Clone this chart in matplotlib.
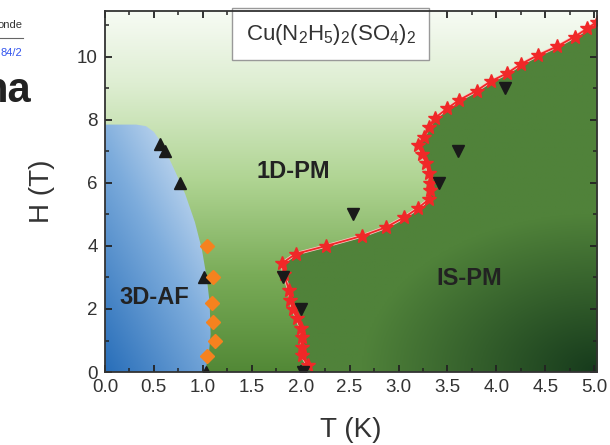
import numpy as np
import matplotlib.pyplot as plt
from matplotlib.patches import Polygon
from matplotlib.colors import to_rgb

plt.rcParams['font.family'] = ['Liberation Sans', 'DejaVu Sans']
plt.rcParams['mathtext.fontset'] = 'custom'
plt.rcParams['mathtext.rm'] = 'Liberation Sans'

# --- data ---
# boundary of the 3D-AF (blue) region
af_T = [0.0, 0.32, 0.42, 0.50, 0.56, 0.63, 0.72, 0.82, 0.92, 0.99, 1.04, 1.07, 1.08, 1.06, 1.02]
af_H = [7.85, 7.85, 7.80, 7.62, 7.35, 6.95, 6.35, 5.65, 4.75, 3.90, 3.00, 2.20, 1.20, 0.50, 0.0]

# up triangles
up_T = [0.56, 0.61, 0.77, 1.01, 1.03]
up_H = [7.25, 7.0, 6.0, 3.0, 0.0]

# down triangles
dn_T = [1.82, 2.00, 2.02, 2.53, 3.41, 3.61, 4.09]
dn_H = [3.0, 2.0, 0.0, 5.0, 6.0, 7.0, 9.0]

# orange diamonds
dia_T = [1.04, 1.10, 1.09, 1.10, 1.12, 1.04]
dia_H = [4.0, 3.0, 2.2, 1.6, 1.0, 0.5]

# red stars (IS-PM boundary)
st_T = [2.07, 2.01, 2.01, 2.01, 2.00, 1.96, 1.92, 1.89, 1.88, 1.83, 1.81, 1.95, 2.26,
        2.63, 2.87, 3.06, 3.20, 3.31, 3.32, 3.32, 3.31, 3.28, 3.24, 3.20, 3.26, 3.31,
        3.37, 3.50, 3.62, 3.80, 3.94, 4.11, 4.25, 4.43, 4.62, 4.80, 4.93, 5.03]
st_H = [0.22, 0.54, 0.80, 1.12, 1.39, 1.70, 2.00, 2.29, 2.60, 3.10, 3.45, 3.75, 4.00,
        4.32, 4.59, 4.91, 5.20, 5.48, 5.76, 6.00, 6.30, 6.63, 6.92, 7.20, 7.47, 7.77,
        8.05, 8.37, 8.63, 8.93, 9.22, 9.48, 9.77, 10.06, 10.33, 10.64, 10.90, 11.12]

xmax, ymax = 5.03, 11.45


def blend(stops, t):
    # piecewise linear colour ramp, t in [0, 1]
    pos = np.array([s[0] for s in stops])
    cols = np.array([s[1] for s in stops]) / 255.0
    out = np.zeros(t.shape + (3,))
    for c in range(3):
        out[..., c] = np.interp(t, pos, cols[:, c])
    return out


fig = plt.figure(figsize=(6.10, 4.45), dpi=100)
ax = fig.add_axes([0.172, 0.164, 0.807, 0.811])

n = 300
T, H = np.meshgrid(np.linspace(0, xmax, n), np.linspace(0, ymax, n))

# background (1D-PM) vertical gradient
bg = blend([(0.0, (82, 136, 54)), (0.27, (122, 172, 88)), (0.53, (175, 212, 146)),
            (0.8, (222, 238, 210)), (1.0, (247, 251, 244))], H / ymax)
ax.imshow(bg, extent=[0, xmax, 0, ymax], origin='lower', aspect='auto', zorder=0)

# 3D-AF blue region
g = np.clip(0.45 * T / 1.1 + 0.55 * H / 7.9, 0, 1)
blue = blend([(0.0, (40, 110, 185)), (0.5, (125, 172, 220)), (1.0, (235, 242, 251))], g)
im = ax.imshow(blue, extent=[0, xmax, 0, ymax], origin='lower', aspect='auto', zorder=1)
af_poly = Polygon(list(zip(af_T, af_H)) + [(0, 0)], closed=True, transform=ax.transData)
im.set_clip_path(af_poly)

# IS-PM dark green region
r = np.sqrt(((xmax - T) / 2.4) ** 2 + (H / 5.0) ** 2)
s = np.clip(1 - r, 0, 1)
base = np.array(to_rgb('#50823a'))
dark = np.array([22, 58, 28]) / 255.0
ispm = base * (1 - s[..., None]) + dark * s[..., None]
im2 = ax.imshow(ispm, extent=[0, xmax, 0, ymax], origin='lower', aspect='auto', zorder=1)
pts = [(2.07, 0.0)] + list(zip(st_T, st_H)) + [(xmax, 11.12), (xmax, 0)]
is_poly = Polygon(pts, closed=True, transform=ax.transData)
im2.set_clip_path(is_poly)

# markers
ax.plot(st_T, st_H, '-', color='#ffc4c4', lw=2.4, zorder=3)
ax.plot(st_T, st_H, '-*', color='#f02828', lw=1.3, ms=10, mec='#f02828', zorder=4)
ax.plot(up_T, up_H, '^', color='#1a1a1a', ms=9, ls='none', zorder=5)
ax.plot(dn_T, dn_H, 'v', color='#1a1a1a', ms=9, ls='none', zorder=5)
ax.plot(dia_T, dia_H, 'D', color='#f5821f', ms=7, ls='none', zorder=5)

# region labels
lab = dict(fontsize=17, fontweight='bold', color='#222222', ha='center', va='center', zorder=6)
ax.text(1.93, 6.35, '1D-PM', **lab)
ax.text(0.50, 2.35, '3D-AF', **lab)
ax.text(3.72, 2.98, 'IS-PM', **lab)

ax.text(2.31, 10.72, r'Cu(N$_2$H$_5$)$_2$(SO$_4$)$_2$', fontsize=16, color='#333333',
        ha='center', va='center', zorder=7,
        bbox=dict(boxstyle='square,pad=0.6', fc='white', ec='#999999', lw=1))

ax.set_xlim(0, xmax)
ax.set_ylim(0, ymax)
ax.set_xticks(np.arange(0, 5.01, 0.5))
ax.set_xticks(np.arange(0, 5.01, 0.25), minor=True)
ax.set_yticks(np.arange(0, 11, 2))
ax.set_yticks(np.arange(0, 12, 1), minor=True)
ax.set_xticklabels(['%.1f' % v for v in np.arange(0, 5.01, 0.5)])
ax.tick_params(which='both', direction='in', top=True, right=True, color='#222222',
               labelsize=13.5, labelcolor='#333333')
ax.tick_params(axis='x', pad=5)
ax.tick_params(axis='y', pad=5)
ax.tick_params(which='major', length=5, width=1.3)
ax.tick_params(which='minor', length=3, width=1.1)
for sp in ax.spines.values():
    sp.set_color('#333333')
    sp.set_linewidth(1.3)
    sp.set_zorder(8)

ax.set_xlabel('T (K)', fontsize=20, color='#333333', labelpad=15)
ax.set_ylabel('H (T)', fontsize=20, color='#333333', labelpad=16)

# fragments of the surrounding page visible at the left edge
fig.text(0.037, 0.944, 'onde', fontsize=8, color='#333333', ha='right', va='center')
fig.add_artist(plt.Line2D([0.0, 0.037], [0.915, 0.915], color='#666666', lw=0.8))
fig.text(0.037, 0.881, '84/2', fontsize=8, color='#3355ee', ha='right', va='center')
fig.text(0.050, 0.795, 'ha', fontsize=30, fontweight='bold', color='#222222',
         ha='right', va='center')

fig.savefig('out.png', dpi=100)
